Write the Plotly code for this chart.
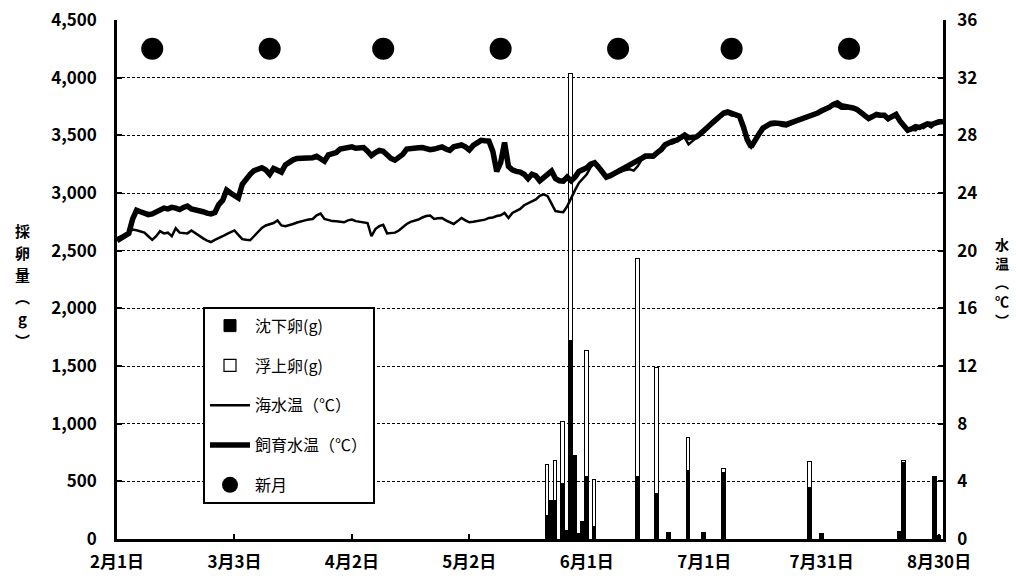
import pandas as pd
import plotly.graph_objects as go

# ---- data ----
dates = pd.date_range("2013-02-01", "2013-08-31", freq="D")
tick_idx = [0, 30, 60, 90, 120, 150, 180, 210]
tick_labels = ["2月1日", "3月3日", "4月2日", "5月2日", "6月1日", "7月1日", "7月31日", "8月30日"]

# spawning days (day index from Feb 1) and egg amounts (g)
egg_idx = [110, 111, 112, 114, 115, 116, 117, 118, 119, 120, 122, 133, 138, 141, 146, 150, 155, 177, 180, 200, 201, 209, 210]
sink_g = [202, 332, 332, 476, 66, 1715, 721, 43, 150, 539, 101, 535, 390, 49, 592, 55, 568, 440, 47, 58, 660, 528, 30]
float_g = [438, 0, 346, 539, 0, 2321, 0, 0, 0, 1090, 409, 1893, 1093, 0, 284, 0, 38, 230, 0, 0, 19, 7, 0]

sea_temp = [
    20.88, 21.0, 21.1, 21.3, 21.46, 21.42, 21.35, 21.25, 21.0, 20.75,
    21.0, 21.35, 21.2, 21.25, 21.0, 21.55, 21.25, 21.2, 21.2, 21.4,
    21.2, 21.0, 20.85, 20.7, 20.6, 20.75, 20.85, 21.0, 21.15, 21.3,
    21.4, 21.1, 20.8, 20.75, 20.72, 21.0, 21.3, 21.58, 21.75, 21.85,
    21.92, 22.1, 21.75, 21.7, 21.76, 21.85, 21.95, 22.05, 22.1, 22.16,
    22.2, 22.45, 22.57, 22.2, 22.1, 22.05, 22.04, 22.0, 21.97, 22.1,
    22.16, 22.05, 22.0, 21.95, 21.92, 21.0, 21.5, 21.7, 21.8, 21.2,
    21.23, 21.25, 21.4, 21.65, 21.85, 22.0, 22.08, 22.16, 22.3, 22.4,
    22.44, 22.2, 22.25, 22.27, 22.1, 21.95, 21.85, 22.05, 22.27, 22.1,
    21.97, 22.0, 22.05, 22.09, 22.15, 22.27, 22.3, 22.4, 22.45, 22.62,
    22.27, 22.62, 22.75, 22.9, 23.15, 23.3, 23.4, 23.55, 23.8, 23.9,
    23.78, 23.3, 22.75, 22.7, 22.67, 23.08, 23.7, 24.2, 24.7, 25.0,
    25.3, 25.8, 26.05, 25.8, 25.45, 25.15, 25.2, 25.3, 25.45, 25.55,
    25.6, 25.65, 25.55, 25.85, 26.3, 26.45, 26.5, 26.45, 26.7, 26.95,
    27.25, 27.4, 27.45, 27.6, 27.8, 27.85, 27.38, 27.6, 27.85, 28.05,
    28.25, 28.55, 28.8, 29.05, 29.25, 29.45, 29.5, 29.38, 29.35, 29.2,
    28.5, 27.6, 27.15, 27.6, 28.0, 28.4, 28.6, 28.7, 28.72, 28.75,
    28.65, 28.62, 28.75, 28.9, 29.0, 29.1, 29.2, 29.3, 29.4, 29.5,
    29.62, 29.75, 29.88, 30.05, 30.0, 29.85, 29.85, 29.85, 29.9, 29.7,
    29.5, 29.3, 29.1, 29.25, 29.35, 29.3, 29.35, 29.05, 29.2, 29.4,
    28.9, 28.55, 28.3, 28.4, 28.35, 28.6, 28.5, 28.7, 28.55, 28.8,
    28.85, 28.9,
]

rearing_temp = [
    20.7, 20.85, 21.0, 21.2, 22.2, 22.8, 22.7, 22.6, 22.5, 22.55,
    22.7, 22.85, 22.95, 22.9, 23.0, 22.95, 22.85, 23.0, 23.1, 22.9,
    22.85, 22.75, 22.7, 22.6, 22.55, 22.65, 23.2, 23.5, 24.2, 24.0,
    23.8, 23.65, 24.6, 25.0, 25.3, 25.55, 25.65, 25.75, 25.6, 25.3,
    25.7, 25.6, 25.45, 25.95, 26.15, 26.3, 26.4, 26.4, 26.38, 26.42,
    26.45, 26.55, 26.4, 26.2, 26.65, 26.75, 26.8, 27.05, 27.1, 27.2,
    27.2, 27.1, 27.12, 27.15, 26.9, 26.6, 26.8, 26.95, 26.9, 26.6,
    26.4, 26.28, 26.45, 26.68, 27.05, 27.1, 27.14, 27.14, 27.15, 27.1,
    27.0, 27.05, 27.15, 27.2, 27.05, 26.96, 27.2, 27.28, 27.33, 27.2,
    26.98, 27.3, 27.5, 27.65, 27.62, 27.6, 26.9, 25.5, 26.1, 27.5,
    25.85, 25.6, 25.5, 25.45, 25.3, 25.0, 25.3, 25.2, 24.85, 25.1,
    25.35, 25.52, 25.0, 24.85, 24.82, 25.1, 24.85, 25.1, 25.5, 25.6,
    25.75, 26.0, 26.1, 25.8, 25.4, 25.1, 25.2, 25.35, 25.5, 25.63,
    25.75, 25.85, 26.0, 26.2, 26.4, 26.56, 26.56, 26.56, 26.8, 27.0,
    27.35, 27.5, 27.6, 27.66, 27.9, 28.02, 27.84, 27.86, 27.89, 28.1,
    28.3, 28.6, 28.85, 29.1, 29.33, 29.55, 29.62, 29.5, 29.45, 29.33,
    28.6, 27.7, 27.2, 27.7, 28.1, 28.5, 28.7, 28.83, 28.85, 28.87,
    28.8, 28.76, 28.85, 28.99, 29.1, 29.2, 29.27, 29.35, 29.45, 29.55,
    29.7, 29.8, 29.95, 30.15, 30.25, 30.05, 30.0, 30.02, 29.9, 29.8,
    29.6, 29.4, 29.17, 29.3, 29.45, 29.4, 29.4, 29.15, 29.3, 29.45,
    29.0, 28.7, 28.35, 28.45, 28.6, 28.55, 28.65, 28.8, 28.75, 28.87,
    28.94, 28.95,
]

new_moon_idx = [9, 39, 68, 98, 128, 157, 187]
new_moon_level = 34  # plotted on the temperature axis

left_title_chars = ["採", "卵", "量", "︵", "g", "︶"]
right_title_chars = ["水", "温", "︵", "℃", "︶"]

# ---- figure ----
egg_dates = [dates[i] for i in egg_idx]
moon_dates = [dates[i] for i in new_moon_idx]
DAY_MS = 86400000

JP = "Noto Sans CJK JP, sans-serif"

fig = go.Figure()
fig.add_trace(go.Bar(
    x=egg_dates, y=sink_g, name="沈下卵(g)", width=DAY_MS * 0.95,
    marker=dict(color="black", line=dict(color="black", width=1)),
    legendgroup="a", yaxis="y"))
fig.add_trace(go.Bar(
    x=egg_dates, y=float_g, name="浮上卵(g)", width=DAY_MS * 0.95,
    marker=dict(color="white", line=dict(color="black", width=1.2)),
    legendgroup="b", yaxis="y"))
fig.add_trace(go.Scatter(
    x=dates, y=sea_temp, name="海水温（℃）", mode="lines",
    line=dict(color="black", width=2.5), legendgroup="c", yaxis="y2"))
fig.add_trace(go.Scatter(
    x=dates, y=rearing_temp, name="飼育水温（℃）", mode="lines",
    line=dict(color="black", width=5.5), legendgroup="d", yaxis="y2"))
fig.add_trace(go.Scatter(
    x=moon_dates, y=[new_moon_level] * len(moon_dates), name="新月", mode="markers",
    marker=dict(color="black", size=22), legendgroup="e", yaxis="y2"))

# plot area spans x 117..943, y 20..539.5 on the 1016x578 page
PX0, PX1, PY0, PY1 = 117, 943, 20, 539.5
W, H = 1016, 578


def px_x(x):
    return (x - PX0) / (PX1 - PX0)


def px_y(y):
    return (PY1 - y) / (PY1 - PY0)


annotations = []
for ch, y in zip(left_title_chars, [231, 253, 275, 297, 319, 341]):
    annotations.append(dict(text=ch, xref="paper", yref="paper", x=px_x(22), y=px_y(y),
                            xanchor="center", yanchor="middle", showarrow=False,
                            font=dict(family=JP, size=15, weight="bold", color="black")))
for ch, y in zip(right_title_chars, [244, 263, 282, 301, 320]):
    annotations.append(dict(text=ch, xref="paper", yref="paper", x=px_x(1002), y=px_y(y),
                            xanchor="center", yanchor="middle", showarrow=False,
                            font=dict(family=JP, size=14, weight="bold", color="black")))

tickfont = dict(family=JP, size=17, weight="bold", color="black")
axis_common = dict(
    tickfont=tickfont, automargin=False, ticklabeloverflow="allow",
    showline=True, linecolor="black", linewidth=2.5,
    ticks="inside", ticklen=5, tickwidth=1.5, tickcolor="black",
    zeroline=False,
)

fig.update_layout(
    width=W, height=H,
    margin=dict(l=PX0, r=W - PX1, t=PY0, b=H - PY1, autoexpand=False),
    paper_bgcolor="white", plot_bgcolor="white",
    barmode="stack", bargap=0,
    font=dict(family=JP, color="black"),
    showlegend=True,
    legend=dict(
        x=px_x(203), y=px_y(307), xanchor="left", yanchor="top",
        bgcolor="white", bordercolor="black", borderwidth=2,
        font=dict(family=JP, size=16, color="black"),
        tracegroupgap=16, itemsizing="trace", itemwidth=40,
    ),
    xaxis=dict(
        type="date",
        range=[dates[0], dates[-1]],
        tickmode="array",
        tickvals=[dates[i] for i in tick_idx],
        ticktext=tick_labels,
        showgrid=False, ticklabelstandoff=6,
        **axis_common,
    ),
    yaxis=dict(
        range=[0, 4500], dtick=500, tickformat=",",
        showgrid=True, gridcolor="black", gridwidth=1, griddash="3px,2px",
        ticklabelstandoff=14,
        **axis_common,
    ),
    yaxis2=dict(
        range=[0, 36], dtick=4, overlaying="y", side="right",
        showgrid=False, ticklabelstandoff=8,
        **axis_common,
    ),
    annotations=annotations,
)

fig.write_html("out.html", config={"displayModeBar": False},
               post_script="document.body.style.margin='0';")
